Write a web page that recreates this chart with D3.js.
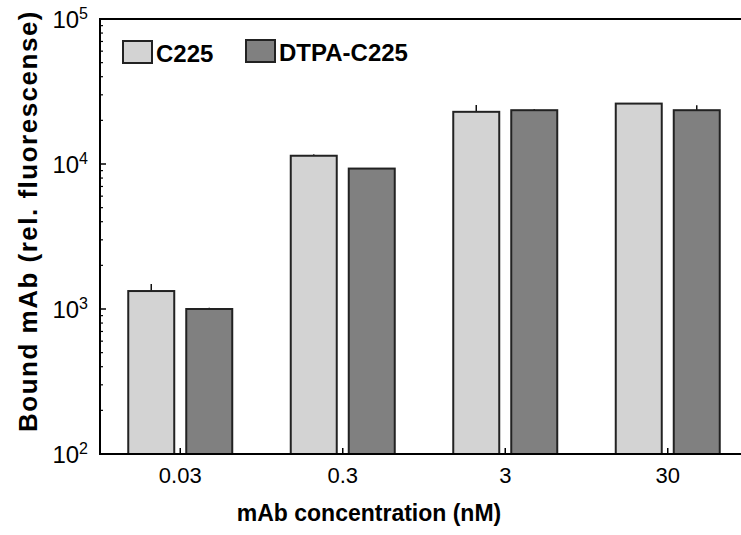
<!DOCTYPE html>
<html>
<head>
<meta charset="utf-8">
<script src="https://cdn.jsdelivr.net/npm/d3@7"></script>
<style>
  body { margin: 0; background: #fff; }
  text { font-family: "Liberation Sans", Arial, sans-serif; }
</style>
</head>
<body>
<svg id="main" width="741" height="535"></svg>
<script>
// data
var concentrations = ["0.03", "0.3", "3", "30"];
var seriesNames = ["C225", "DTPA-C225"];
var c225 = [1330, 11400, 22900, 26100];
var c225Err = [160, 250, 2600, 0];
var dtpa = [1000, 9300, 23500, 23500];
var dtpaErr = [20, 60, 400, 1900];
var yTicks = [100, 1000, 10000, 100000];

var colors = ["#d3d3d3", "#808080"];

var svg = d3.select("#main");
var plotLeft = 100, plotTop = 19, plotBottom = 454;

var x = d3.scaleBand().domain(concentrations).range([99, 749]).padding(0);
var xSub = d3.scaleBand().domain(seriesNames).range([-52, 52]).paddingInner(0.207);
var y = d3.scaleLog().domain([100, 100000]).range([plotBottom, plotTop]);

function cx(d) { return x(d) + x.bandwidth() / 2; }

var flat = [];
concentrations.forEach(function(c, i) {
  flat.push({ cat: c, s: "C225", v: c225[i], e: c225Err[i] });
  flat.push({ cat: c, s: "DTPA-C225", v: dtpa[i], e: dtpaErr[i] });
});

// error bars (upward only)
svg.append("g").selectAll("line").data(flat.filter(function(d) { return d.e > 0; }))
  .enter().append("line")
  .attr("x1", function(d) { return cx(d.cat) + xSub(d.s) + xSub.bandwidth() / 2; })
  .attr("x2", function(d) { return cx(d.cat) + xSub(d.s) + xSub.bandwidth() / 2; })
  .attr("y1", function(d) { return y(d.v); })
  .attr("y2", function(d) { return y(d.v + d.e); })
  .attr("stroke", "#111")
  .attr("stroke-width", 1.5);

// bars
svg.append("g").selectAll("rect").data(flat)
  .enter().append("rect")
  .attr("x", function(d) { return cx(d.cat) + xSub(d.s); })
  .attr("y", function(d) { return y(d.v); })
  .attr("width", xSub.bandwidth())
  .attr("height", function(d) { return plotBottom - y(d.v); })
  .attr("fill", function(d) { return colors[seriesNames.indexOf(d.s)]; })
  .attr("stroke", "#222")
  .attr("stroke-width", 2);

// frame: left, bottom, top (no right side, it runs off the picture)
svg.append("line").attr("x1", plotLeft).attr("x2", plotLeft).attr("y1", plotTop).attr("y2", plotBottom)
  .attr("stroke", "#000").attr("stroke-width", 2);
svg.append("line").attr("x1", plotLeft - 1).attr("x2", 741).attr("y1", plotBottom).attr("y2", plotBottom)
  .attr("stroke", "#000").attr("stroke-width", 2);
svg.append("line").attr("x1", plotLeft - 1).attr("x2", 741).attr("y1", plotTop).attr("y2", plotTop)
  .attr("stroke", "#000").attr("stroke-width", 2);

// y axis ticks (inside), major + minor
var minor = [];
for (var p = 100; p < 100000; p *= 10) {
  for (var k = 2; k <= 9; k++) minor.push(p * k);
}
svg.append("g").selectAll("line").data(minor).enter().append("line")
  .attr("x1", plotLeft).attr("x2", plotLeft + 3)
  .attr("y1", function(d) { return y(d); }).attr("y2", function(d) { return y(d); })
  .attr("stroke", "#000").attr("stroke-width", 1.2);
svg.append("g").selectAll("line").data(yTicks).enter().append("line")
  .attr("x1", plotLeft).attr("x2", plotLeft + 6)
  .attr("y1", function(d) { return y(d); }).attr("y2", function(d) { return y(d); })
  .attr("stroke", "#000").attr("stroke-width", 1.5);

var yl = svg.append("g").selectAll("text").data(yTicks).enter().append("text")
  .attr("x", 88).attr("y", function(d) { return y(d) + 9; })
  .attr("text-anchor", "end")
  .attr("font-size", 24).attr("fill", "#000");
yl.append("tspan").text("10");
yl.append("tspan").attr("dy", -9).attr("font-size", 16)
  .text(function(d) { return Math.round(Math.log10(d)); });

// x axis ticks (inside) and labels
svg.append("g").selectAll("line").data(concentrations).enter().append("line")
  .attr("x1", cx).attr("x2", cx)
  .attr("y1", plotBottom).attr("y2", plotBottom - 6)
  .attr("stroke", "#000").attr("stroke-width", 1.5);
svg.append("g").selectAll("text").data(concentrations).enter().append("text")
  .attr("x", cx)
  .attr("y", 483)
  .attr("text-anchor", "middle")
  .attr("font-size", 22).attr("fill", "#000")
  .text(function(d) { return d; });

// axis titles
svg.append("text")
  .attr("x", 369).attr("y", 521)
  .attr("text-anchor", "middle")
  .attr("font-size", 23).attr("font-weight", "bold")
  .text("mAb concentration (nM)");
svg.append("text")
  .attr("transform", "translate(37,221) rotate(-90)")
  .attr("text-anchor", "middle")
  .attr("font-size", 26).attr("font-weight", "bold")
  .attr("letter-spacing", 1.5)
  .text("Bound mAb (rel. fluorescense)");

// legend
var legendX = [123, 246];
var lg = svg.append("g").selectAll("g").data(seriesNames).enter().append("g")
  .attr("transform", function(d, i) { return "translate(" + legendX[i] + "," + (i === 0 ? 41 : 40) + ")"; });
lg.append("rect")
  .attr("width", 29).attr("height", 22)
  .attr("fill", function(d, i) { return colors[i]; })
  .attr("stroke", "#222").attr("stroke-width", 2);
lg.append("text")
  .attr("x", 33).attr("y", 21)
  .attr("font-size", 24).attr("font-weight", "bold")
  .text(function(d) { return d; });
</script>
</body>
</html>
